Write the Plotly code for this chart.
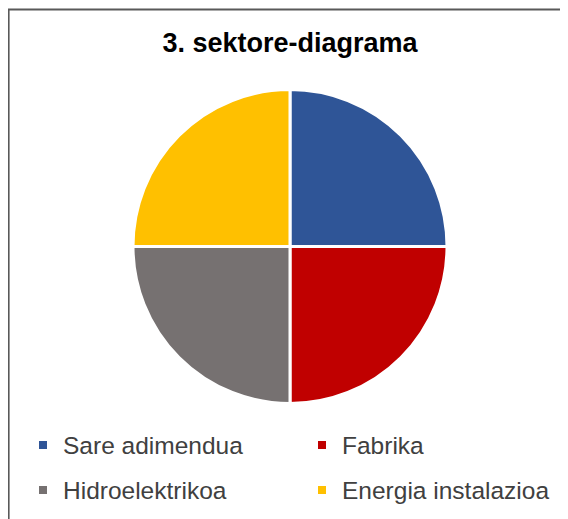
import plotly.graph_objects as go

title_text = "3. sektore-diagrama"
labels = ["Sare adimendua", "Fabrika", "Hidroelektrikoa", "Energia instalazioa"]
values = [25, 25, 25, 25]
colors = ["#2F5597", "#C00000", "#767171", "#FFC000"]
legend_rows = ["legend", "legend", "legend2", "legend2"]

W, H = 568, 519
OFF = 8  # page body margin offset in the browser
FONT = "Liberation Sans, Arial, sans-serif"


def px(xs):
    return (xs - OFF) / W


def py(ys):
    return 1 - (ys - OFF) / H


fig = go.Figure()
fig.add_trace(go.Pie(
    labels=labels, values=values, sort=False, direction="clockwise", rotation=0,
    marker=dict(colors=colors, line=dict(color="white", width=3)),
    textinfo="none", hoverinfo="label+percent", showlegend=False,
    domain=dict(x=[px(133), px(447)], y=[py(403.5), py(89.5)]),
))
for lab, col, lg in zip(labels, colors, legend_rows):
    fig.add_trace(go.Scatter(
        x=[None], y=[None], mode="markers", name=lab, legend=lg,
        marker=dict(symbol="square", size=8, color=col),
    ))

leg_common = dict(
    orientation="h", xanchor="left", yanchor="middle",
    x=px(23), entrywidth=234, entrywidthmode="pixels",
    font=dict(family=FONT, size=24.5, color="#404040"),
    bgcolor="rgba(0,0,0,0)", borderwidth=0, itemclick=False, itemdoubleclick=False,
)
fig.update_layout(
    width=W, height=H,
    margin=dict(l=0, r=0, t=0, b=0, autoexpand=False),
    paper_bgcolor="white", plot_bgcolor="white",
    title=dict(text="<b>" + title_text + "</b>", x=px(290), xanchor="center",
               y=py(43), yanchor="middle",
               font=dict(family=FONT, size=27, color="#000000")),
    xaxis=dict(visible=False), yaxis=dict(visible=False),
    legend=dict(leg_common, y=py(445)),
    legend2=dict(leg_common, y=py(490)),
    shapes=[dict(type="rect", xref="paper", yref="paper",
                 x0=0.6 / W, x1=1.05, y0=-0.05, y1=1 - 1.5 / H,
                 line=dict(color="#595959", width=2), layer="above")],
)
fig.write_html("out.html")
